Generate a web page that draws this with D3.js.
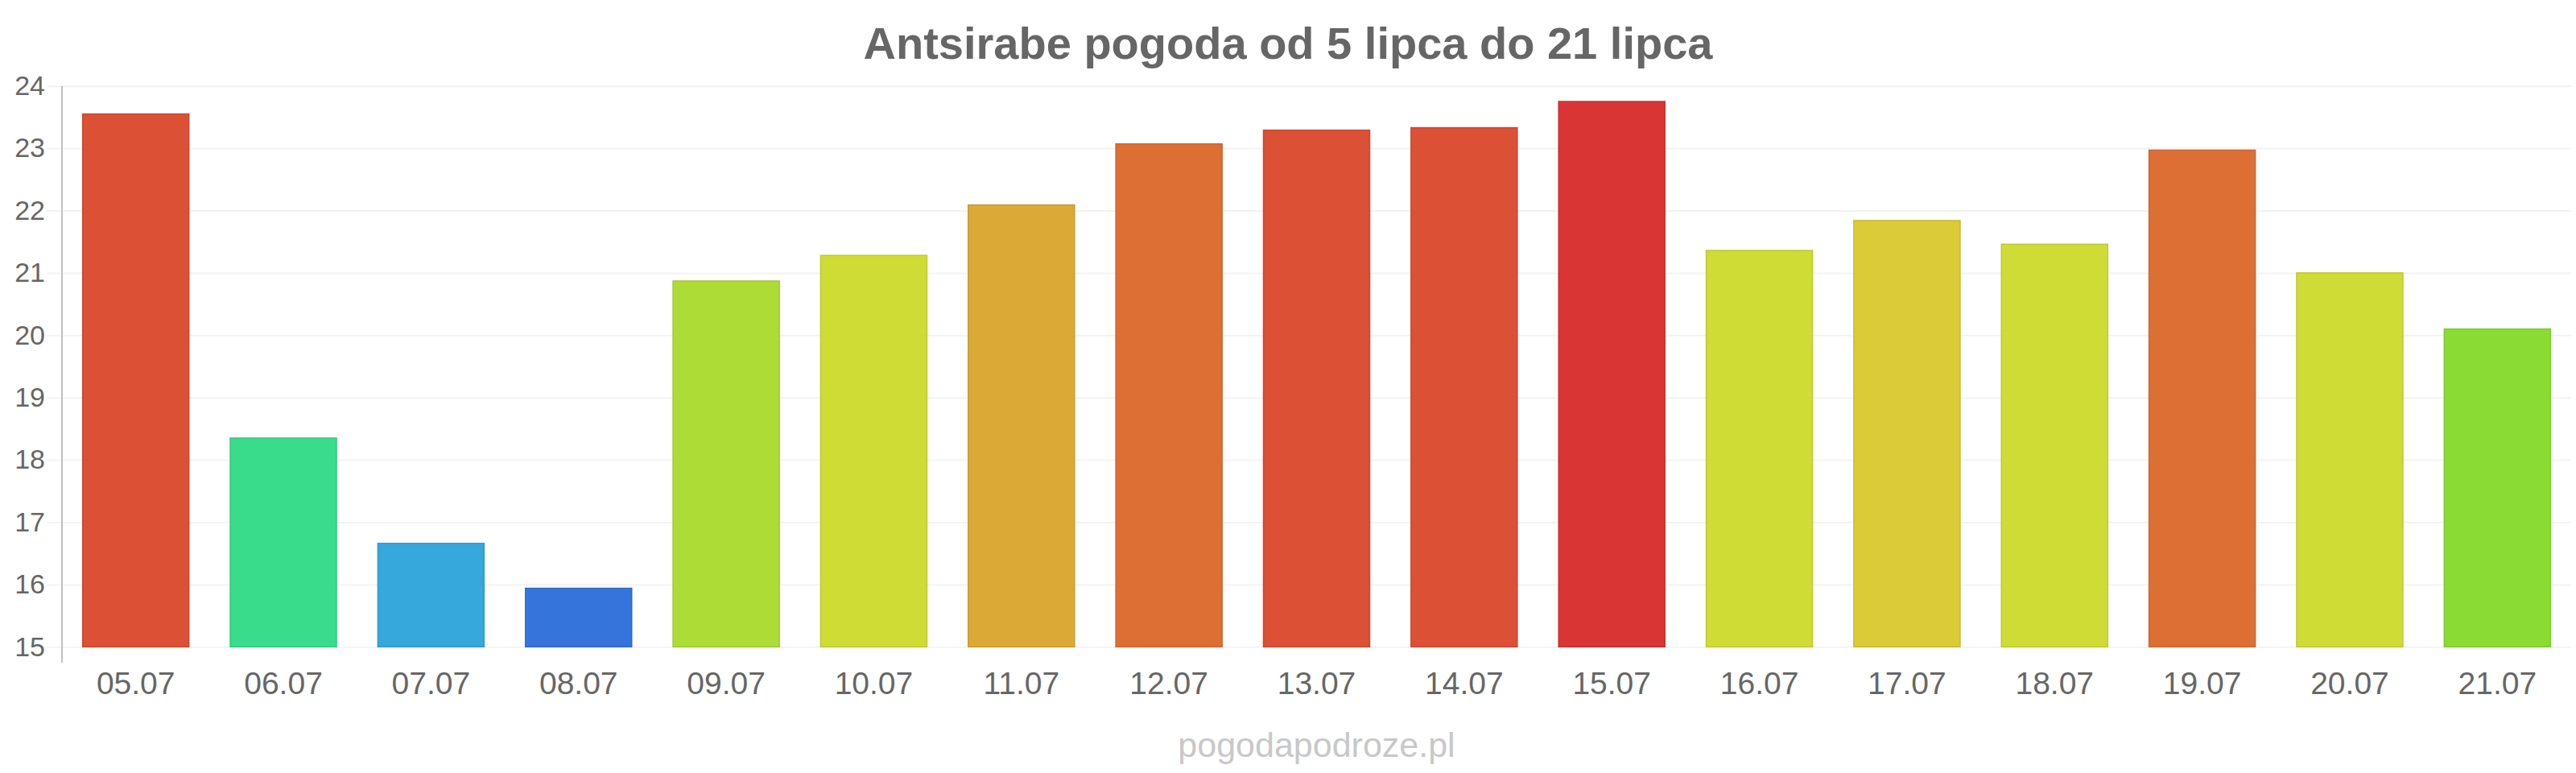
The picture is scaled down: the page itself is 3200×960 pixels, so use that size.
<!DOCTYPE html>
<html lang="pl">
<head>
<meta charset="utf-8">
<title>Antsirabe pogoda</title>
<script src="https://cdn.jsdelivr.net/npm/d3@7/dist/d3.min.js"></script>
<style>
  body { margin: 0; background: #fff; }
  text { font-family: "Liberation Sans", Arial, sans-serif; }
</style>
</head>
<body>
<script>
// dane
var days = ["05.07", "06.07", "07.07", "08.07", "09.07", "10.07", "11.07", "12.07", "13.07",
            "14.07", "15.07", "16.07", "17.07", "18.07", "19.07", "20.07", "21.07"];
var temps = [23.55, 18.35, 16.66, 15.94, 20.87, 21.28, 22.09, 23.07, 23.29,
             23.33, 23.75, 21.36, 21.84, 21.46, 22.97, 21.0, 20.1];
var colors = ["#dc5035", "#38dc8a", "#37a8db", "#3575db", "#aedc36", "#d0dc36", "#dba935", "#dd6f35", "#dc5035",
              "#dc5035", "#da3535", "#d0dc36", "#dbcb36", "#d0dc36", "#dd6f35", "#d0dc36", "#8adc35"];
var yTicks = [15, 16, 17, 18, 19, 20, 21, 22, 23, 24];

var w = 3200, h = 960;
// "top" is taken by window.top, so use other names
var plotLeft = 77, plotRight = 3194, plotTop = 106.7, plotBottom = 803.3;

var svg = d3.select("body").append("svg")
    .attr("width", w)
    .attr("height", h);

var x = d3.scaleBand()
    .domain(days)
    .range([plotLeft, plotRight])
    .paddingInner(0.28)
    .paddingOuter(0.14);

var y = d3.scaleLinear()
    .domain([15, 24])
    .range([plotBottom, plotTop]);

// siatka + etykiety osi y
var yAxis = svg.append("g")
    .attr("transform", "translate(58,0)")
    .call(d3.axisLeft(y).tickValues(yTicks).tickSize(-(plotRight - 58)).tickPadding(2).tickFormat(d3.format("d")));
yAxis.select(".domain").remove();
yAxis.selectAll(".tick line").attr("stroke", "#f3f3f3").attr("stroke-width", 2);
yAxis.selectAll(".tick text")
    .attr("fill", "#666")
    .style("font-size", "34px")
    .style("font-family", "Liberation Sans, Arial, sans-serif");

// linia osi y
svg.append("line")
    .attr("x1", plotLeft).attr("x2", plotLeft)
    .attr("y1", plotTop).attr("y2", plotBottom + 20)
    .attr("stroke", "#c0c0c0")
    .attr("stroke-width", 2);

// slupki
svg.selectAll("rect.bar")
    .data(temps)
    .enter()
    .append("rect")
    .attr("class", "bar")
    .attr("x", function(d, i) { return x(days[i]); })
    .attr("y", function(d) { return y(d); })
    .attr("width", x.bandwidth())
    .attr("height", function(d) { return y(15) - y(d); })
    .attr("fill", function(d, i) { return colors[i]; })
    .attr("stroke", function(d, i) { return d3.color(colors[i]).darker(0.25); })
    .attr("stroke-width", 1.5);

// os x
var xAxis = svg.append("g")
    .attr("transform", "translate(0," + plotBottom + ")")
    .call(d3.axisBottom(x).tickSize(0));
xAxis.select(".domain").remove();
xAxis.selectAll(".tick text")
    .attr("y", 59)
    .attr("dy", 0)
    .attr("fill", "#666")
    .style("font-size", "39px")
    .style("font-family", "Liberation Sans, Arial, sans-serif");

// tytul
svg.append("text")
    .attr("x", w / 2)
    .attr("y", 73)
    .attr("text-anchor", "middle")
    .attr("fill", "#666")
    .style("font-size", "56px")
    .style("font-weight", "bold")
    .text("Antsirabe pogoda od 5 lipca do 21 lipca");

// znak wodny
svg.append("text")
    .attr("x", (plotLeft + plotRight) / 2)
    .attr("y", 940)
    .attr("text-anchor", "middle")
    .attr("fill", "#c8c8c8")
    .style("font-size", "43px")
    .text("pogodapodroze.pl");
</script>
</body>
</html>
